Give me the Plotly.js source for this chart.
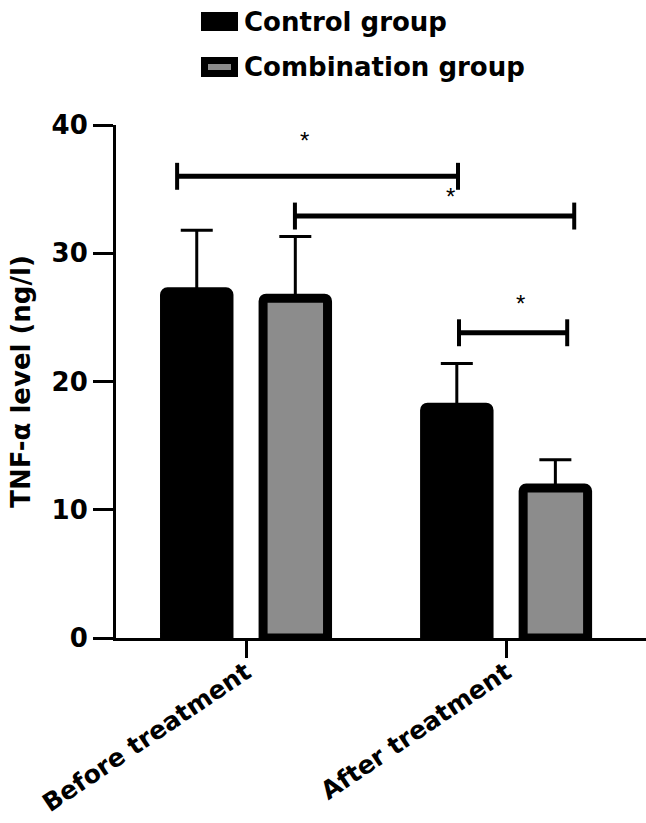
<!DOCTYPE html>
<html>
<head>
<meta charset="utf-8">
<script src="https://cdn.plot.ly/plotly-3.0.1.min.js"></script>
<style>
  html, body { margin: 0; padding: 0; background: #fff; }
  #chart { width: 646px; height: 823px; }
</style>
</head>
<body>
<div id="chart"></div>
<script>
const categories = ["Before treatment", "After treatment"];
const seriesNames = ["Control group", "Combination group"];
const controlMean = [27.0, 18.0];
const controlErr = [4.8, 3.4];
const comboMean = [26.5, 11.7];
const comboErr = [4.8, 2.2];
const yTicks = [0, 10, 20, 30, 40];

(() => {
  const FONT = "DejaVu Sans";
  const GRAY = "#8c8c8c";

  // pixel -> paper helpers for the hand-drawn legend
  const L = 116, R = 646, T = 125, B = 638;
  const px = (x) => (x - L) / (R - L);
  const py = (y) => (B - y) / (B - T);

  const errStyle = (arr) => ({
    type: "data",
    symmetric: false,
    array: arr,
    arrayminus: arr.map(() => 0),
    color: "#000",
    thickness: 3,
    width: 16,
  });

  const traces = [
    {
      type: "bar",
      name: seriesNames[0],
      x: categories,
      y: controlMean,
      error_y: errStyle(controlErr),
      marker: { color: "#000", line: { color: "#000", width: 9 }, cornerradius: 3 },
    },
    {
      type: "bar",
      name: seriesNames[1],
      x: categories,
      y: comboMean,
      error_y: errStyle(comboErr),
      marker: { color: GRAY, line: { color: "#000", width: 9 }, cornerradius: 3 },
    },
  ];

  // significance brackets (x in category units, y in data units)
  const brackets = [
    { x0: -0.265, x1: 0.815, y: 36.0, sx: 0.223, sy: 38.8 },
    { x0: 0.188, x1: 1.262, y: 32.9, sx: 0.785, sy: 34.4 },
    { x0: 0.819, x1: 1.235, y: 23.8, sx: 1.054, sy: 26.1 },
  ];

  const shapes = [];
  const annotations = [];
  brackets.forEach((b) => {
    shapes.push({ type: "line", xref: "x", yref: "y", x0: b.x0, x1: b.x1, y0: b.y, y1: b.y,
      line: { color: "#000", width: 5 } });
    [b.x0, b.x1].forEach((xe) => {
      shapes.push({ type: "line", xref: "x", yref: "y", x0: xe, x1: xe, y0: b.y - 1.05, y1: b.y + 1.05,
        line: { color: "#000", width: 4 } });
    });
    annotations.push({ x: b.sx, y: b.sy, xref: "x", yref: "y", text: "*", showarrow: false,
      font: { family: "Liberation Sans", size: 24, color: "#000" } });
  });

  // legend
  const legendRows = [
    { y0: 12, y1: 31, fill: "#000" },
    { y0: 57, y1: 77, fill: GRAY },
  ];
  legendRows.forEach((r, i) => {
    shapes.push({ type: "rect", xref: "paper", yref: "paper",
      x0: px(204.5), x1: px(234.5), y0: py(r.y0 + 3.5), y1: py(r.y1 - 3.5),
      fillcolor: r.fill, line: { color: "#000", width: 7 } });
    annotations.push({ xref: "paper", yref: "paper", x: px(242), y: py((r.y0 + r.y1) / 2),
      xanchor: "left", yanchor: "middle", showarrow: false, text: seriesNames[i],
      font: { family: FONT, size: 26, weight: "bold", color: "#000" } });
  });

  Plotly.newPlot("chart", traces, {
    width: 646,
    height: 823,
    margin: { l: L, r: 646 - R, t: T, b: 823 - B },
    paper_bgcolor: "#fff",
    plot_bgcolor: "#fff",
    showlegend: false,
    barmode: "group",
    bargap: 0.242,
    bargroupgap: 0.346,
    xaxis: {
      type: "category",
      range: [-0.5, 1.538],
      showline: true,
      linecolor: "#000",
      linewidth: 3,
      ticks: "outside",
      ticklen: 17,
      tickwidth: 3,
      tickcolor: "#000",
      tickangle: -34,
      ticklabelstandoff: -10,
      tickfont: { family: FONT, size: 25, weight: "bold", color: "#000" },
      showgrid: false,
      zeroline: false,
    },
    yaxis: {
      range: [0, 40],
      tickvals: yTicks,
      showline: true,
      linecolor: "#000",
      linewidth: 3,
      ticks: "outside",
      ticklen: 20,
      tickwidth: 3,
      tickcolor: "#000",
      tickfont: { family: FONT, size: 26, weight: "bold", color: "#000" },
      showgrid: false,
      zeroline: false,
      title: {
        text: "TNF-α level (ng/l)",
        font: { family: FONT, size: 26, weight: "bold", color: "#000" },
        standoff: 14,
      },
    },
    shapes,
    annotations,
  }, { displayModeBar: false, staticPlot: true });
})();
</script>
</body>
</html>
